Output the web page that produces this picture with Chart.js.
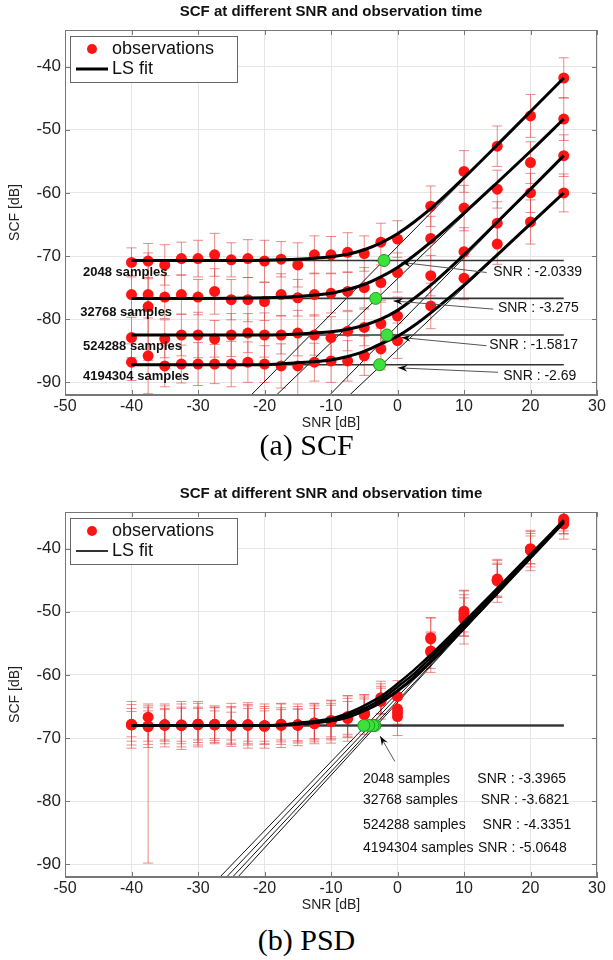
<!DOCTYPE html>
<html>
<head>
<meta charset="utf-8">
<script src="https://cdn.jsdelivr.net/npm/chart.js@4.4.1/dist/chart.umd.min.js"></script>
<style>
  body { margin: 0; background: #fff; width: 613px; height: 960px; position: relative; overflow: hidden; }
  .box { position: absolute; left: 0; width: 613px; height: 432px; }
  .cap { position: absolute; left: 0; width: 613px; text-align: center;
         font-family: "Liberation Serif", "Times New Roman", serif; font-size: 30px; line-height: 34px; color: #000; }
</style>
</head>
<body>
<div class="box" style="top:0"><canvas id="scf"></canvas></div>
<div class="cap" style="top:428px">(a) SCF</div>
<div class="box" style="top:482px"><canvas id="psd"></canvas></div>
<div class="cap" style="top:923px">(b) PSD</div>
<script>
// ---- data ----
var samples = ['2048', '32768', '524288', '4194304'];
var snr = [-40, -37.5, -35, -32.5, -30, -27.5, -25, -22.5, -20, -17.5, -15, -12.5, -10, -7.5, -5, -2.5, 0, 5, 10, 15, 20, 25];
var xTicks = [-50, -40, -30, -20, -10, 0, 10, 20, 30];
var yTicks = [-90, -80, -70, -60, -50, -40];

// (a) SCF observations
var scf2048 = [-71.0, -70.8, -71.4, -70.4, -70.4, -69.8, -70.6, -70.4, -70.8, -70.5, -71.4, -69.8, -69.8, -69.4, -69.6, -67.8, -67.3, -62.1, -56.6, -52.6, -47.8, -41.8];
var scf32768 = [-76.1, -76.1, -76.5, -76.1, -76.5, -75.6, -76.9, -76.9, -77.2, -76.1, -76.6, -76.1, -75.9, -75.6, -75.0, -74.2, -72.6, -67.2, -62.4, -59.4, -55.2, -48.3];
var scf524288 = [-82.9, -78.0, -83.1, -82.5, -82.5, -83.1, -82.5, -82.2, -82.5, -82.5, -82.2, -82.5, -82.9, -81.9, -81.3, -80.7, -79.5, -73.1, -69.3, -64.8, -60.0, -54.1];
var scf4194304 = [-86.8, -85.8, -87.4, -87.1, -87.1, -87.1, -87.1, -86.8, -87.1, -87.4, -87.4, -86.8, -86.6, -86.6, -85.8, -84.7, -83.4, -77.9, -73.5, -68.1, -64.6, -60.0];
var scfErr2048 = [2.3, 2.8, 3.2, 2.6, 2.9, 3.4, 2.7, 3.0, 3.3, 2.8, 3.5, 3.0, 2.9, 3.1, 2.8, 3.0, 2.9, 3.2, 3.3, 3.2, 3.4, 3.2];
var scfErr32768 = [3.0, 2.7, 3.4, 3.1, 2.8, 3.6, 3.2, 3.5, 3.0, 3.3, 2.9, 3.4, 3.1, 3.0, 3.2, 2.8, 3.1, 3.5, 3.6, 3.0, 3.3, 3.4];
var scfErr524288 = [3.2, 8.5, 3.0, 3.3, 3.6, 2.9, 3.4, 3.1, 3.5, 3.0, 3.6, 3.2, 3.3, 3.1, 2.9, 3.4, 3.0, 3.2, 3.8, 3.4, 3.1, 3.3];
var scfErr4194304 = [2.9, 6.0, 3.3, 3.0, 3.4, 3.1, 3.6, 3.2, 2.9, 3.5, 5.0, 3.0, 3.4, 3.2, 3.1, 3.3, 2.8, 3.6, 3.4, 3.2, 3.5, 3.0];

// (a) SCF least-squares fit curves
var fitSnr = [-40, -30, -20, -15, -10, -7.5, -5, -2.5, 0, 2.5, 5, 10, 15, 20, 25];
var scfFit2048 = [-70.7, -70.7, -70.65, -70.5, -70.1, -69.7, -69.0, -67.9, -66.45, -64.6, -62.5, -57.6, -52.4, -47.1, -41.8];
var scfFit32768 = [-76.7, -76.7, -76.6, -76.4, -75.9, -75.3, -74.5, -73.3, -71.8, -69.9, -67.8, -63.2, -58.35, -53.4, -48.3];
var scfFit524288 = [-82.5, -82.5, -82.5, -82.35, -82.0, -81.6, -80.95, -80.0, -78.6, -76.7, -74.6, -69.8, -64.6, -59.4, -54.1];
var scfFit4194304 = [-87.2, -87.2, -87.2, -86.9, -86.45, -85.9, -85.1, -83.9, -82.7, -81.0, -79.0, -74.6, -69.8, -64.9, -60.0];
var scfFloor = [-70.7, -76.7, -82.5, -87.2];
var scfCross = [-2.0339, -3.275, -1.5817, -2.69];
var scfAsymFrom = [-22.0, -18.2, -10.2, -7.2];   // SNR where each asymptote enters at the bottom
var scfAsymTo = [-41.8, -48.3, -54.1, -60.0];    // asymptote value at SNR 25

// (b) PSD observations
var psd2048 = [-67.9, -66.7, -67.9, -68.0, -67.8, -67.9, -68.0, -67.9, -68.1, -67.9, -67.9, -67.6, -67.2, -66.6, -65.9, -63.6, -63.4, -54.1, -49.9, -44.8, -40.0, -35.3];
var psd32768 = [-67.9, -68.1, -67.9, -67.9, -67.8, -67.9, -67.9, -68.0, -68.0, -67.8, -67.9, -67.6, -67.3, -66.7, -66.1, -64.0, -65.4, -54.3, -50.3, -45.0, -40.1, -35.6];
var psd524288 = [-67.8, -68.1, -67.9, -68.0, -67.9, -67.8, -68.1, -67.9, -68.1, -67.9, -68.0, -67.7, -67.3, -66.8, -66.2, -64.1, -66.0, -56.2, -50.8, -45.0, -40.2, -35.8];
var psd4194304 = [-67.9, -68.2, -68.0, -68.0, -67.8, -67.9, -68.0, -67.9, -68.1, -68.0, -67.9, -67.7, -67.4, -66.9, -66.3, -64.2, -66.6, -56.4, -51.2, -45.1, -40.3, -36.1];
var psdErr2048 = [2.6, [23.1, 2.1], 2.4, 2.9, 2.5, 2.2, 2.8, 2.6, 2.4, 2.7, 2.9, 3.0, 3.1, 3.3, 2.8, 2.6, 2.5, 3.1, 3.3, 2.9, 2.4, 1.9];
var psdErr32768 = [3.2, 2.9, 3.0, 2.6, 3.3, 2.8, 3.4, 3.6, 3.0, 3.2, 2.5, 2.7, 2.8, 3.0, 2.6, 2.2, 2.4, 3.4, 3.6, 2.7, 2.8, 2.1];
var psdErr524288 = [2.0, 2.4, 2.6, 3.4, 2.8, 2.6, 2.2, 3.0, 2.8, 2.4, 2.6, 2.4, 2.5, 2.6, 2.4, 2.0, 2.1, 2.8, 3.0, 2.5, 2.2, 1.8];
var psdErr4194304 = [3.7, 3.3, 3.4, 3.8, 3.6, 3.0, 3.0, 3.2, 3.5, 3.5, 3.3, 3.2, 3.4, 3.6, 3.1, 2.8, 3.0, 3.2, 3.9, 3.4, 3.2, 2.4];

// (b) PSD fit curves
var psdFit2048 = [-68.0, -68.0, -68.0, -67.8, -67.3, -66.7, -65.7, -64.4, -62.6, -60.5, -58.0, -52.6, -47.0, -41.3, -35.6];
var psdFit32768 = [-68.0, -68.0, -68.0, -67.8, -67.3, -66.7, -65.65, -64.3, -62.45, -60.3, -57.85, -52.6, -47.1, -41.5, -35.9];
var psdFit524288 = [-68.0, -68.0, -68.0, -67.7, -67.1, -66.4, -65.3, -63.9, -61.9, -59.8, -57.3, -52.1, -46.7, -41.2, -35.7];
var psdFit4194304 = [-68.0, -68.0, -68.0, -67.6, -66.9, -66.05, -64.85, -63.4, -61.4, -59.2, -56.8, -51.6, -46.3, -40.9, -35.5];
var psdFloor = [-68.0, -68.0, -68.0, -68.0];
var psdCross = [-3.3965, -3.6821, -4.3351, -5.0648];
var psdAsymFrom = [-24.0, -24.8, -25.7, -26.7];
var psdAsymTo = [-35.6, -35.9, -35.7, -35.5];

var xMin = -50, xMax = 30, yMin = -92, yMax = -34.2;

// ---- helpers ----
function pts(xs, ys) {
    return xs.map(function(x, i) { return { x: x, y: ys[i] }; });
}

function buildDatasets(obs, errs, fits, floors, cross, asymFrom, asymTo, fitWidth) {
    var ds = [];
    // green crossing markers on top
    ds.push({
        data: pts(cross, floors), pointRadius: 6, pointHoverRadius: 6,
        backgroundColor: '#3ee03e', borderColor: '#1c9a1c', borderWidth: 1, order: 0
    });
    fits.forEach(function(f) {
        ds.push({
            data: pts(fitSnr, f), showLine: true, pointRadius: 0, borderColor: '#000',
            borderWidth: fitWidth, cubicInterpolationMode: 'monotone', order: 1
        });
    });
    obs.forEach(function(o, k) {
        ds.push({
            data: pts(snr, o), errors: errs[k], pointRadius: 5.5, pointHoverRadius: 5.5,
            backgroundColor: '#ff1414', borderColor: '#ff1414', borderWidth: 0, order: 2
        });
    });
    floors.forEach(function(f) {
        ds.push({
            data: [{ x: -40, y: f }, { x: 25, y: f }], showLine: true, pointRadius: 0,
            borderColor: '#333', borderWidth: 1.6, order: 3
        });
    });
    asymFrom.forEach(function(x0, k) {
        ds.push({
            data: [{ x: x0, y: yMin }, { x: 25, y: asymTo[k] }], showLine: true, pointRadius: 0,
            borderColor: '#111', borderWidth: 1, order: 3
        });
    });
    return ds;
}

// error bars drawn under the markers
var errorBars = {
    id: 'errorBars',
    beforeDatasetsDraw: function(chart) {
        var ctx = chart.ctx, ys = chart.scales.y, ca = chart.chartArea;
        ctx.save();
        ctx.beginPath(); ctx.rect(ca.left, ca.top, ca.width, ca.height); ctx.clip();
        ctx.strokeStyle = 'rgba(225, 60, 60, 0.6)';
        ctx.lineWidth = 1;
        chart.data.datasets.forEach(function(ds, di) {
            if (!ds.errors) return;
            var meta = chart.getDatasetMeta(di);
            meta.data.forEach(function(pt, i) {
                var e = ds.errors[i];
                var lo = Array.isArray(e) ? e[0] : e, hi = Array.isArray(e) ? e[1] : e;
                var v = ds.data[i].y;
                var yt = ys.getPixelForValue(v + hi), yb = ys.getPixelForValue(v - lo);
                ctx.beginPath();
                ctx.moveTo(pt.x, yt); ctx.lineTo(pt.x, yb);
                ctx.moveTo(pt.x - 5, yt); ctx.lineTo(pt.x + 5, yt);
                ctx.moveTo(pt.x - 5, yb); ctx.lineTo(pt.x + 5, yb);
                ctx.stroke();
            });
        });
        ctx.restore();
    }
};

// text labels and arrows, given in data units
var notes = {
    id: 'notes',
    afterDatasetsDraw: function(chart, args, opts) {
        var ctx = chart.ctx, xs = chart.scales.x, ys = chart.scales.y;
        ctx.save();
        (opts.arrows || []).forEach(function(a) {
            var x1 = xs.getPixelForValue(a[0]), y1 = ys.getPixelForValue(a[1]);
            var x2 = xs.getPixelForValue(a[2]), y2 = ys.getPixelForValue(a[3]);
            var ang = Math.atan2(y2 - y1, x2 - x1);
            ctx.strokeStyle = '#555'; ctx.lineWidth = 1;
            ctx.beginPath(); ctx.moveTo(x1, y1); ctx.lineTo(x2, y2); ctx.stroke();
            ctx.fillStyle = '#000';
            ctx.beginPath();
            ctx.moveTo(x2, y2);
            ctx.lineTo(x2 - 10 * Math.cos(ang - 0.35), y2 - 10 * Math.sin(ang - 0.35));
            ctx.lineTo(x2 - 6 * Math.cos(ang), y2 - 6 * Math.sin(ang));
            ctx.lineTo(x2 - 10 * Math.cos(ang + 0.35), y2 - 10 * Math.sin(ang + 0.35));
            ctx.closePath(); ctx.fill();
        });
        (opts.texts || []).forEach(function(t) {
            ctx.font = t[3];
            ctx.fillStyle = '#111';
            ctx.textAlign = 'left'; ctx.textBaseline = 'middle';
            ctx.fillText(t[2], xs.getPixelForValue(t[0]), ys.getPixelForValue(t[1]));
        });
        ctx.restore();
    }
};

// full box, inner ticks, legend
var frame = {
    id: 'frame',
    afterDraw: function(chart, args, opts) {
        var ctx = chart.ctx, ca = chart.chartArea, xs = chart.scales.x, ys = chart.scales.y;
        ctx.save();
        ctx.strokeStyle = '#777'; ctx.lineWidth = 1;
        ctx.strokeRect(ca.left + 0.5, ca.top + 0.5, ca.width - 1, ca.height - 1);
        ctx.beginPath();
        xTicks.forEach(function(v) {
            var x = Math.round(xs.getPixelForValue(v)) + 0.5;
            ctx.moveTo(x, ca.bottom); ctx.lineTo(x, ca.bottom - 5);
            ctx.moveTo(x, ca.top); ctx.lineTo(x, ca.top + 5);
        });
        yTicks.forEach(function(v) {
            var y = Math.round(ys.getPixelForValue(v)) + 0.5;
            ctx.moveTo(ca.left, y); ctx.lineTo(ca.left + 5, y);
            ctx.moveTo(ca.right, y); ctx.lineTo(ca.right - 5, y);
        });
        ctx.stroke();

        // legend box
        var lx = ca.left + 5, ly = ca.top + 6, lw = 167, lh = 46;
        ctx.fillStyle = '#fff';
        ctx.fillRect(lx, ly, lw, lh);
        ctx.strokeStyle = '#666';
        ctx.strokeRect(lx + 0.5, ly + 0.5, lw, lh);
        ctx.fillStyle = '#ff1414';
        ctx.beginPath(); ctx.arc(lx + 22, ly + 13, 5, 0, Math.PI * 2); ctx.fill();
        ctx.strokeStyle = '#000'; ctx.lineWidth = opts.lineWidth;
        ctx.beginPath(); ctx.moveTo(lx + 6, ly + 33); ctx.lineTo(lx + 38, ly + 33); ctx.stroke();
        ctx.fillStyle = '#111';
        ctx.font = '18px "Liberation Sans", Arial, sans-serif';
        ctx.textAlign = 'left'; ctx.textBaseline = 'middle';
        ctx.fillText('observations', lx + 42, ly + 13);
        ctx.fillText('LS fit', lx + 42, ly + 33);
        ctx.restore();
    }
};

function makeChart(id, datasets, noteOpts, legendLine) {
    var ctx = document.getElementById(id).getContext('2d');
    return new Chart(ctx, {
        type: 'scatter',
        data: { datasets: datasets },
        plugins: [errorBars, notes, frame],
        options: {
            responsive: true,
            maintainAspectRatio: false,
            animation: false,
            layout: { padding: { left: 0, right: 16, top: 0, bottom: 0 } },
            scales: {
                x: {
                    min: xMin, max: xMax,
                    afterBuildTicks: function(s) { s.ticks = xTicks.map(function(v) { return { value: v }; }); },
                    afterFit: function(s) { s.height = 37; },
                    ticks: { color: '#222', padding: 2, font: { size: 16, family: '"Liberation Sans", Arial' } },
                    grid: { color: '#e6e6e6', drawTicks: false },
                    border: { display: true, color: '#777' },
                    title: { display: true, text: 'SNR [dB]', color: '#222', padding: 0,
                             font: { size: 14, family: '"Liberation Sans", Arial' } }
                },
                y: {
                    min: yMin, max: yMax,
                    afterBuildTicks: function(s) { s.ticks = yTicks.map(function(v) { return { value: v }; }); },
                    afterFit: function(s) { s.width = 65; },
                    ticks: { color: '#222', padding: 4, font: { size: 17, family: '"Liberation Sans", Arial' } },
                    grid: { color: '#e6e6e6', drawTicks: false },
                    border: { display: true, color: '#777' },
                    title: { display: true, text: 'SCF [dB]', color: '#222', padding: { top: 7, bottom: 0 },
                             font: { size: 14, family: '"Liberation Sans", Arial' } }
                }
            },
            plugins: {
                legend: { display: false },
                tooltip: { enabled: false },
                title: {
                    display: true, fullSize: false,
                    text: 'SCF at different SNR and observation time',
                    color: '#111',
                    font: { size: 15, weight: 'bold', family: '"Liberation Sans", Arial' },
                    padding: { top: 3, bottom: 9 }
                },
                notes: noteOpts,
                frame: { lineWidth: legendLine }
            }
        }
    });
}

var bold = 'bold 13px "Liberation Sans", Arial, sans-serif';
var plain = '14px "Liberation Sans", Arial, sans-serif';

makeChart('scf',
    buildDatasets([scf2048, scf32768, scf524288, scf4194304],
                  [scfErr2048, scfErr32768, scfErr524288, scfErr4194304],
                  [scfFit2048, scfFit32768, scfFit524288, scfFit4194304],
                  scfFloor, scfCross, scfAsymFrom, scfAsymTo, 3),
    {
        texts: [
            [-47.3, -72.6, samples[0] + ' samples', bold],
            [-47.7, -79.0, samples[1] + ' samples', bold],
            [-47.3, -84.3, samples[2] + ' samples', bold],
            [-47.3, -89.0, samples[3] + ' samples', bold],
            [14.4, -72.6, 'SNR : ' + scfCross[0], plain],
            [15.1, -78.3, 'SNR : ' + scfCross[1], plain],
            [13.8, -84.1, 'SNR : ' + scfCross[2], plain],
            [15.9, -89.0, 'SNR : ' + scfCross[3], plain]
        ],
        arrows: [
            [13.4, -72.6, 0.6, -71.0],
            [14.4, -78.4, -0.6, -77.1],
            [13.4, -84.2, 0.6, -82.9],
            [15.1, -88.4, 0.1, -87.7]
        ]
    }, 3);

makeChart('psd',
    buildDatasets([psd2048, psd32768, psd524288, psd4194304],
                  [psdErr2048, psdErr32768, psdErr524288, psdErr4194304],
                  [psdFit2048, psdFit32768, psdFit524288, psdFit4194304],
                  psdFloor, psdCross, psdAsymFrom, psdAsymTo, 2.5),
    {
        texts: [
            [-5.2, -76.5, samples[0] + ' samples', plain],
            [-5.2, -79.8, samples[1] + ' samples', plain],
            [-5.2, -83.8, samples[2] + ' samples', plain],
            [-5.2, -87.5, samples[3] + ' samples', plain],
            [12.0, -76.5, 'SNR : ' + psdCross[0], plain],
            [12.5, -79.8, 'SNR : ' + psdCross[1], plain],
            [12.8, -83.8, 'SNR : ' + psdCross[2], plain],
            [12.1, -87.5, 'SNR : ' + psdCross[3], plain]
        ],
        arrows: [
            [-0.4, -73.7, -2.6, -69.7]
        ]
    }, 1.6);
</script>
</body>
</html>
